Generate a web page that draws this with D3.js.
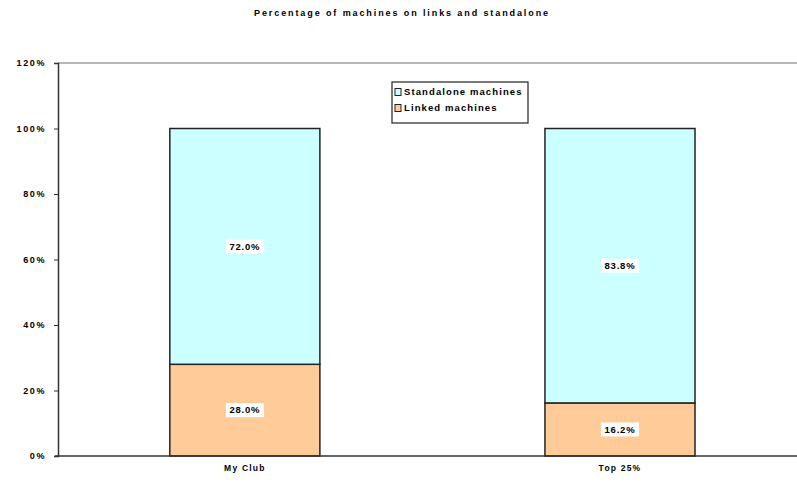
<!DOCTYPE html>
<html>
  <head>
    <meta charset="UTF-8">
    <style>
      body {
        margin: 0;
        background: white;
        font-family: Arial, "Liberation Sans", sans-serif;
      }
      svg {
        display: block;
      }
    </style>
    <script src="https://cdn.jsdelivr.net/npm/d3@7"></script>
  </head>
  <body>
    <svg id="chart"></svg>
    <script>
      let categories = ['My Club', 'Top 25%'];
      let linked = [28.0, 16.2];
      let standalone = [72.0, 83.8];
      let yTicks = [0, 20, 40, 60, 80, 100, 120];
      let seriesNames = ['Standalone machines', 'Linked machines'];
      let seriesColors = ['#ccffff', '#ffcc99'];

      function getConfig() {
        let width = 797;
        let height = 484;
        let margin = {top: 63, bottom: 28, left: 58, right: 0};
        let container = d3.select('#chart')
          .attr('width', width)
          .attr('height', height);
        return {width, height, margin, container};
      }

      function getScales(config) {
        let {width, height, margin} = config;
        let xScale = d3.scaleBand()
          .domain(categories)
          .range([margin.left, width - margin.right])
          .paddingInner(0.6)
          .paddingOuter(0.285)
          .align(0.523);
        let yScale = d3.scaleLinear()
          .domain([0, 120])
          .range([height - margin.bottom, margin.top]);
        return {xScale, yScale};
      }

      function styleText(sel, size, spacing) {
        sel.attr('font-size', size)
          .attr('font-family', 'Arial, sans-serif')
          .attr('font-weight', 'bold')
          .attr('letter-spacing', spacing)
          .attr('fill', '#000');
      }

      function drawAxes(config, scales) {
        let {container, margin, width} = config;
        let {xScale, yScale} = scales;

        // top grid line at 120%
        container.append('line')
          .attr('x1', margin.left).attr('x2', width)
          .attr('y1', yScale(120)).attr('y2', yScale(120))
          .attr('stroke', '#a0a0a0')
          .attr('stroke-width', 1.5);

        let axisY = d3.axisLeft(yScale)
          .tickValues(yTicks)
          .tickFormat(d => d + '%')
          .tickSize(4)
          .tickPadding(8);
        let gy = container.append('g')
          .attr('transform', `translate(${margin.left},0)`)
          .call(axisY);
        gy.select('.domain').attr('stroke', '#333').attr('stroke-width', 1.5);
        gy.selectAll('.tick line').attr('stroke', '#333');
        styleText(gy.selectAll('text'), 9, 1.6);

        let axisX = d3.axisBottom(xScale).tickSize(0).tickPadding(9);
        let gx = container.append('g')
          .attr('transform', `translate(0,${yScale(0)})`)
          .call(axisX);
        gx.select('.domain').remove();
        container.append('line')
          .attr('x1', margin.left - 3).attr('x2', width)
          .attr('y1', yScale(0)).attr('y2', yScale(0))
          .attr('stroke', '#333')
          .attr('stroke-width', 1.5);
        styleText(gx.selectAll('text'), 8.5, 1.2);
      }

      function drawBars(config, scales) {
        let {container} = config;
        let {xScale, yScale} = scales;
        let stacks = [
          {values: linked, base: categories.map(() => 0), color: seriesColors[1]},
          {values: standalone, base: linked, color: seriesColors[0]}
        ];

        stacks.forEach(s => {
          let g = container.append('g');
          g.selectAll('rect')
            .data(categories)
            .enter()
            .append('rect')
            .attr('x', d => xScale(d))
            .attr('width', xScale.bandwidth())
            .attr('y', (d, i) => yScale(s.base[i] + s.values[i]))
            .attr('height', (d, i) => yScale(s.base[i]) - yScale(s.base[i] + s.values[i]))
            .attr('fill', s.color)
            .attr('stroke', '#222')
            .attr('stroke-width', 1.5);

          let labels = g.selectAll('g.lbl')
            .data(categories)
            .enter()
            .append('g')
            .attr('transform', (d, i) => `translate(${xScale(d) + xScale.bandwidth() / 2},${yScale(s.base[i] + s.values[i] / 2)})`);
          labels.append('rect')
            .attr('x', -19).attr('y', -7)
            .attr('width', 38).attr('height', 14)
            .attr('fill', 'white');
          styleText(labels.append('text')
            .attr('text-anchor', 'middle')
            .attr('dy', '0.35em')
            .text((d, i) => s.values[i].toFixed(1) + '%'), 9.5, 0.8);
        });
      }

      function drawLegend(config) {
        let {container} = config;
        let legend = container.append('g').attr('transform', 'translate(392,82)');
        legend.append('rect')
          .attr('width', 136).attr('height', 41)
          .attr('fill', 'white')
          .attr('stroke', '#222')
          .attr('stroke-width', 1.2);
        let items = legend.selectAll('g.item')
          .data(seriesNames)
          .enter()
          .append('g')
          .attr('transform', (d, i) => `translate(3,${8 + i * 16})`);
        items.append('rect')
          .attr('width', 6).attr('height', 7)
          .attr('y', -1.5)
          .attr('fill', (d, i) => seriesColors[i])
          .attr('stroke', '#222');
        styleText(items.append('text')
          .attr('x', 9)
          .attr('y', 2)
          .attr('dy', '0.35em')
          .text(d => d), 9.5, 1.1);
      }

      function drawTitle(config) {
        styleText(config.container.append('text')
          .attr('x', 402)
          .attr('y', 16)
          .attr('text-anchor', 'middle')
          .text('Percentage of machines on links and standalone'), 9, 1.9);
      }

      let config = getConfig();
      let scales = getScales(config);
      drawBars(config, scales);
      drawAxes(config, scales);
      drawLegend(config);
      drawTitle(config);
    </script>
  </body>
</html>
